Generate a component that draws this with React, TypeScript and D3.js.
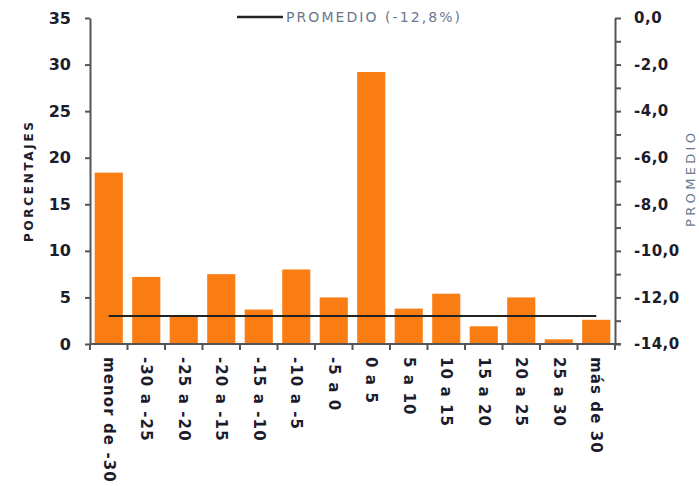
import * as d3 from "d3";
import { useRef, useEffect } from "react";

// categories (ranges of variation) and bar values (percent)
const categories = [
  "menor de -30", "-30 a -25", "-25 a -20", "-20 a -15", "-15 a -10", "-10 a -5", "-5 a 0",
  "0 a 5", "5 a 10", "10 a 15", "15 a 20", "20 a 25", "25 a 30", "más de 30",
];
const porcentajes = [18.4, 7.2, 2.9, 7.5, 3.7, 8.0, 5.0, 29.2, 3.8, 5.4, 1.9, 5.0, 0.5, 2.6];
const promedio = [-12.8, -12.8, -12.8, -12.8, -12.8, -12.8, -12.8, -12.8, -12.8, -12.8, -12.8, -12.8, -12.8, -12.8];
const leftTicks = [0, 5, 10, 15, 20, 25, 30, 35];
const rightTicks = [0, -2, -4, -6, -8, -10, -12, -14];
const legendLabel = "PROMEDIO (-12,8%)";

export default function App() {
  const svgRef = useRef<SVGSVGElement>(null);

  useEffect(() => {
    const svg = d3.select(svgRef.current);
    svg.selectAll("*").remove();

    const margin = { top: 18, right: 84, bottom: 142, left: 90 };
    const width = 699 - margin.left - margin.right;
    const height = 486 - margin.top - margin.bottom;
    const font = "'DejaVu Sans', 'Liberation Sans', sans-serif";
    const ink = "#1c1c2c";
    const soft = "#6a788c";

    const x = d3.scaleBand().domain(categories).range([0, width]).paddingInner(0.25).paddingOuter(0.125);
    const y = d3.scaleLinear().domain([0, 35]).range([height, 0]);
    const y2 = d3.scaleLinear().domain([-14, 0]).range([height, 0]);

    const g = svg.append("g").attr("transform", `translate(${margin.left},${margin.top})`);

    // bars
    g.selectAll("rect.bar").data(porcentajes).join("rect")
      .attr("class", "bar")
      .attr("x", (_, i) => x(categories[i])!)
      .attr("y", d => y(d))
      .attr("width", x.bandwidth())
      .attr("height", d => height - y(d))
      .attr("fill", "#fa7d14");

    // average line on the right axis
    const line = d3.line<number>()
      .x((_, i) => x(categories[i])! + x.bandwidth() / 2)
      .y(d => y2(d));
    g.append("path").datum(promedio)
      .attr("fill", "none").attr("stroke", "#222").attr("stroke-width", 2).attr("d", line);

    const axisColor = "#555";

    // left axis
    const left = g.append("g").call(d3.axisLeft(y).tickValues(leftTicks).tickSize(5).tickPadding(14).tickSizeOuter(0));
    left.select(".domain").attr("stroke", axisColor).attr("stroke-width", 2);
    left.selectAll(".tick line").attr("stroke", axisColor).attr("stroke-width", 2);
    left.selectAll(".tick text").attr("font-family", font).attr("font-size", 16).attr("font-weight", "bold")
      .attr("fill", ink);

    // right axis, major and minor ticks
    const right = g.append("g").attr("transform", `translate(${width},0)`)
      .call(d3.axisRight(y2).ticks(14).tickSize(6).tickPadding(13).tickSizeOuter(0)
        .tickFormat(d => (rightTicks.includes(+d) ? d3.format(".1f")(+d).replace(".", ",").replace("−", "-") : "")));
    right.select(".domain").attr("stroke", axisColor).attr("stroke-width", 2);
    right.selectAll(".tick line").attr("stroke", axisColor).attr("stroke-width", 2);
    right.selectAll(".tick text").attr("font-family", font).attr("font-size", 15).attr("font-weight", "bold")
      .attr("letter-spacing", 0.5).attr("fill", ink);

    // bottom axis with ticks at band boundaries
    const bottom = g.append("g").attr("transform", `translate(0,${height})`);
    bottom.append("line").attr("x1", 0).attr("x2", width + 6).attr("stroke", axisColor).attr("stroke-width", 2);
    const step = x.step();
    bottom.selectAll("line.tk").data(d3.range(categories.length + 1)).join("line")
      .attr("class", "tk")
      .attr("x1", i => i * step).attr("x2", i => i * step)
      .attr("y1", 0).attr("y2", 6)
      .attr("stroke", axisColor).attr("stroke-width", 2);
    bottom.selectAll("text").data(categories).join("text")
      .attr("transform", d => `translate(${x(d)! + x.bandwidth() / 2},13) rotate(90)`)
      .attr("dy", "0.35em")
      .attr("font-family", font).attr("font-size", 15).attr("font-weight", "bold")
      .attr("letter-spacing", 1.1).attr("fill", ink)
      .text(d => d);

    // axis titles
    svg.append("text")
      .attr("transform", `translate(33,182) rotate(-90)`)
      .attr("text-anchor", "middle")
      .attr("font-family", font).attr("font-size", 12).attr("font-weight", "bold").attr("fill", ink)
      .attr("textLength", 120).attr("lengthAdjust", "spacing")
      .text("PORCENTAJES");
    svg.append("text")
      .attr("transform", `translate(695,180) rotate(-90)`)
      .attr("text-anchor", "middle")
      .attr("font-family", font).attr("font-size", 13).attr("fill", soft)
      .attr("textLength", 94).attr("lengthAdjust", "spacing")
      .text("PROMEDIO");

    // legend
    const lg = svg.append("g").attr("transform", "translate(237,17)");
    lg.append("line").attr("x1", 0).attr("x2", 46).attr("stroke", "#222").attr("stroke-width", 2.5);
    lg.append("text").attr("x", 49).attr("dy", "0.35em")
      .attr("font-family", font).attr("font-size", 14).attr("fill", soft)
      .attr("textLength", 174).attr("lengthAdjust", "spacing")
      .text(legendLabel);
  }, []);

  return (
    <svg ref={svgRef} width={699} height={486} style={{ position: "absolute", left: 0, top: 0, background: "#fff" }} />
  );
}
